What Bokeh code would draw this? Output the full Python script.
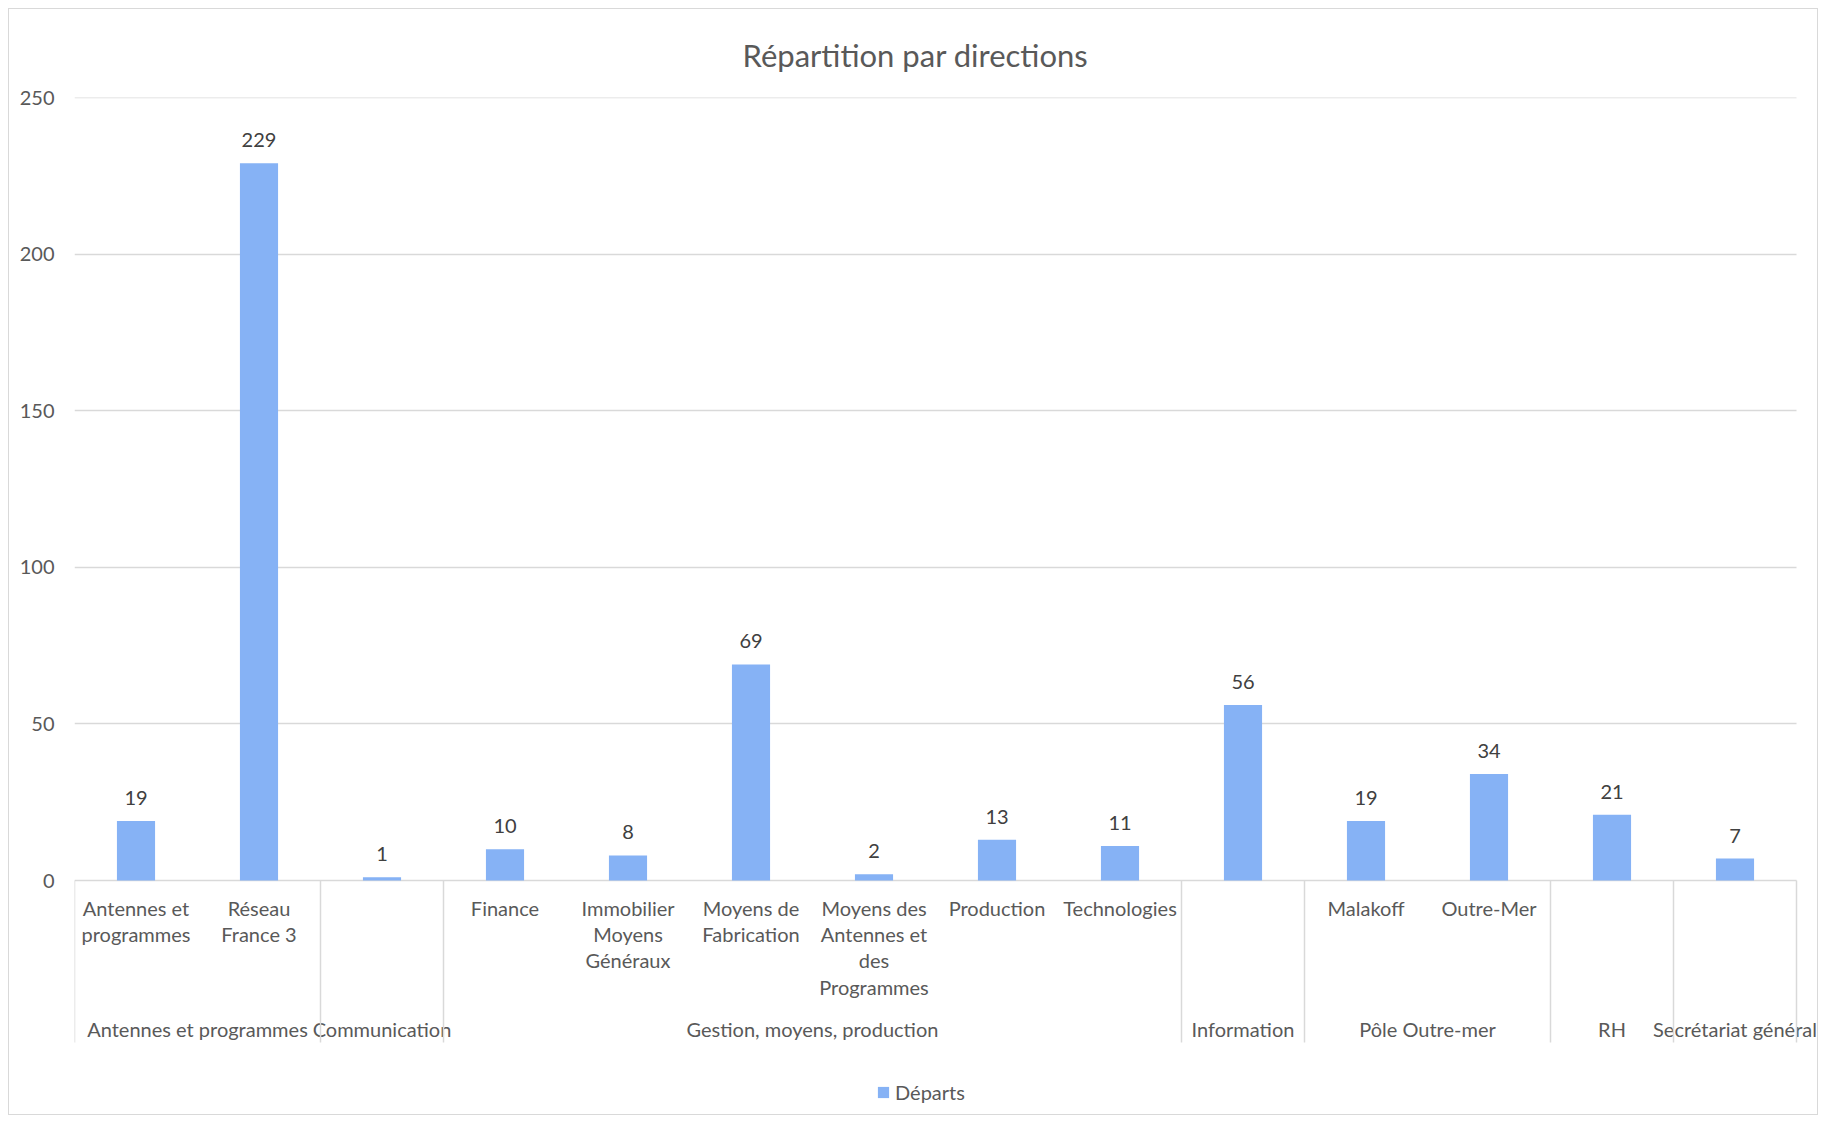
from bokeh.plotting import figure
from bokeh.models import Range1d, FixedTicker, ColumnDataSource, Legend, LegendItem, LinearAxis
from bokeh.core.properties import value
from bokeh.embed import file_html
from bokeh.resources import INLINE

# ---------------- data ----------------
title_text = "Répartition par directions"
series_name = "Départs"
groups = ["Antennes et programmes", "Communication", "Gestion, moyens, production",
          "Information", "Pôle Outre-mer", "RH", "Secrétariat général"]
group_sizes = [2, 1, 6, 1, 2, 1, 1]
subcategories = [
    ["Antennes et", "programmes"], ["Réseau", "France 3"],
    [],
    ["Finance"], ["Immobilier", "Moyens", "Généraux"], ["Moyens de", "Fabrication"],
    ["Moyens des", "Antennes et", "des", "Programmes"], ["Production"], ["Technologies"],
    [],
    ["Malakoff"], ["Outre-Mer"],
    [],
    [],
]
departs = [19, 229, 1, 10, 8, 69, 2, 13, 11, 56, 19, 34, 21, 7]
y_ticks = [0, 50, 100, 150, 200, 250]

# ---------------- layout / style ----------------
FONT = "Lato"
FS = "20px"
TXT = "#595959"
VAL = "#404040"
GRID = "#D9D9D9"
BAR = "#86B2F5"
W, H = 1810, 1107
LEFT = 65
CAT_PX = 123.0
FRAME_TOP = 88
ZERO_PX = 871
PX_PER_UNIT = (ZERO_PX - FRAME_TOP) / y_ticks[-1]
y_start = y_ticks[-1] - (H - FRAME_TOP) / PX_PER_UNIT

n = len(departs)
x_centers = [i + 0.5 for i in range(n)]
x_end = (W - LEFT) / CAT_PX   # frame reaches the right edge so the last group label fits

p = figure(width=W, height=H, output_backend="svg", toolbar_location=None,
           x_range=Range1d(0, x_end), y_range=Range1d(y_start, y_ticks[-1]),
           x_axis_location=None, min_border_left=LEFT, min_border_right=0,
           min_border_top=FRAME_TOP, min_border_bottom=0,
           styles={"border": "1px solid #D9D9D9", "margin": "8px 0 0 8px"})
p.outline_line_color = None
p.background_fill_color = "white"
p.border_fill_color = "white"

p.title.text = title_text
p.title.align = "left"
p.title.offset = 668
p.title.text_font = FONT
p.title.text_font_size = "31px"
p.title.text_font_style = "normal"
p.title.text_color = TXT
p.title.standoff = 47

# default y axis: its inward ticks serve as the gridlines (stopping at the last category)
ga = p.yaxis[0]
ga.ticker = FixedTicker(ticks=y_ticks)
ga.axis_line_color = None
ga.minor_tick_line_color = None
ga.major_tick_out = 0
ga.major_tick_in = int(round(n * CAT_PX))
ga.major_tick_line_color = GRID
ga.major_tick_line_width = 1.5
ga.level = "underlay"
ga.major_label_overrides = {t: "" for t in y_ticks}
ga.major_label_text_font_size = "1px"
ga.major_label_standoff = 0
p.xgrid.grid_line_color = None
p.ygrid.grid_line_color = None

# second y axis carrying the tick labels
la = LinearAxis(ticker=FixedTicker(ticks=y_ticks))
la.axis_line_color = None
la.major_tick_line_color = None
la.minor_tick_line_color = None
la.major_tick_out = 0
la.major_tick_in = 0
la.major_label_text_font = FONT
la.major_label_text_font_size = FS
la.major_label_text_color = TXT
la.major_label_standoff = 20
p.add_layout(la, "left")

src = ColumnDataSource(dict(x=x_centers, y=departs, lbl=[str(v) for v in departs]))
bars = p.vbar(x="x", top="y", bottom=0, width=0.31, source=src,
              fill_color=BAR, line_color=None)
p.text(x="x", y="y", text="lbl", source=src, text_align="center", text_baseline="middle",
       y_offset=-23, text_font=value(FONT), text_font_size=FS, text_color=VAL)

# sub-category labels (one glyph per line index)
LINE0, LINE_H = 27, 26.4
max_lines = max(len(s) for s in subcategories)
for li in range(max_lines):
    xs, ts = [], []
    for i, s in enumerate(subcategories):
        if li < len(s):
            xs.append(x_centers[i]); ts.append(s[li])
    p.text(x=xs, y=[0] * len(xs), text=ts, text_align="center", text_baseline="middle",
           y_offset=LINE0 + li * LINE_H, text_font=value(FONT), text_font_size=FS,
           text_color=TXT)

# group labels and separators
bounds = [0]
for g in group_sizes:
    bounds.append(bounds[-1] + g)
g_centers = [(bounds[k] + bounds[k + 1]) / 2 for k in range(len(groups))]
p.text(x=g_centers, y=[0] * len(groups), text=groups, text_align="center",
       text_baseline="middle", y_offset=148, text_font=value(FONT), text_font_size=FS,
       text_color=TXT)
SEP_DEPTH = 162 / PX_PER_UNIT
p.segment(x0=bounds, y0=[0] * len(bounds), x1=bounds, y1=[-SEP_DEPTH] * len(bounds),
          line_color=GRID, line_width=1.5)

legend = Legend(items=[LegendItem(label=series_name, renderers=[bars])],
                location=(802, 12), orientation="horizontal")
legend.border_line_color = None
legend.background_fill_alpha = 0
legend.glyph_width = 14
legend.glyph_height = 14
legend.label_standoff = 5
legend.padding = 0
legend.margin = 0
legend.label_text_font = FONT
legend.label_text_font_size = FS
legend.label_text_color = TXT
p.add_layout(legend)

open("out.html", "w").write(file_html(p, INLINE))
